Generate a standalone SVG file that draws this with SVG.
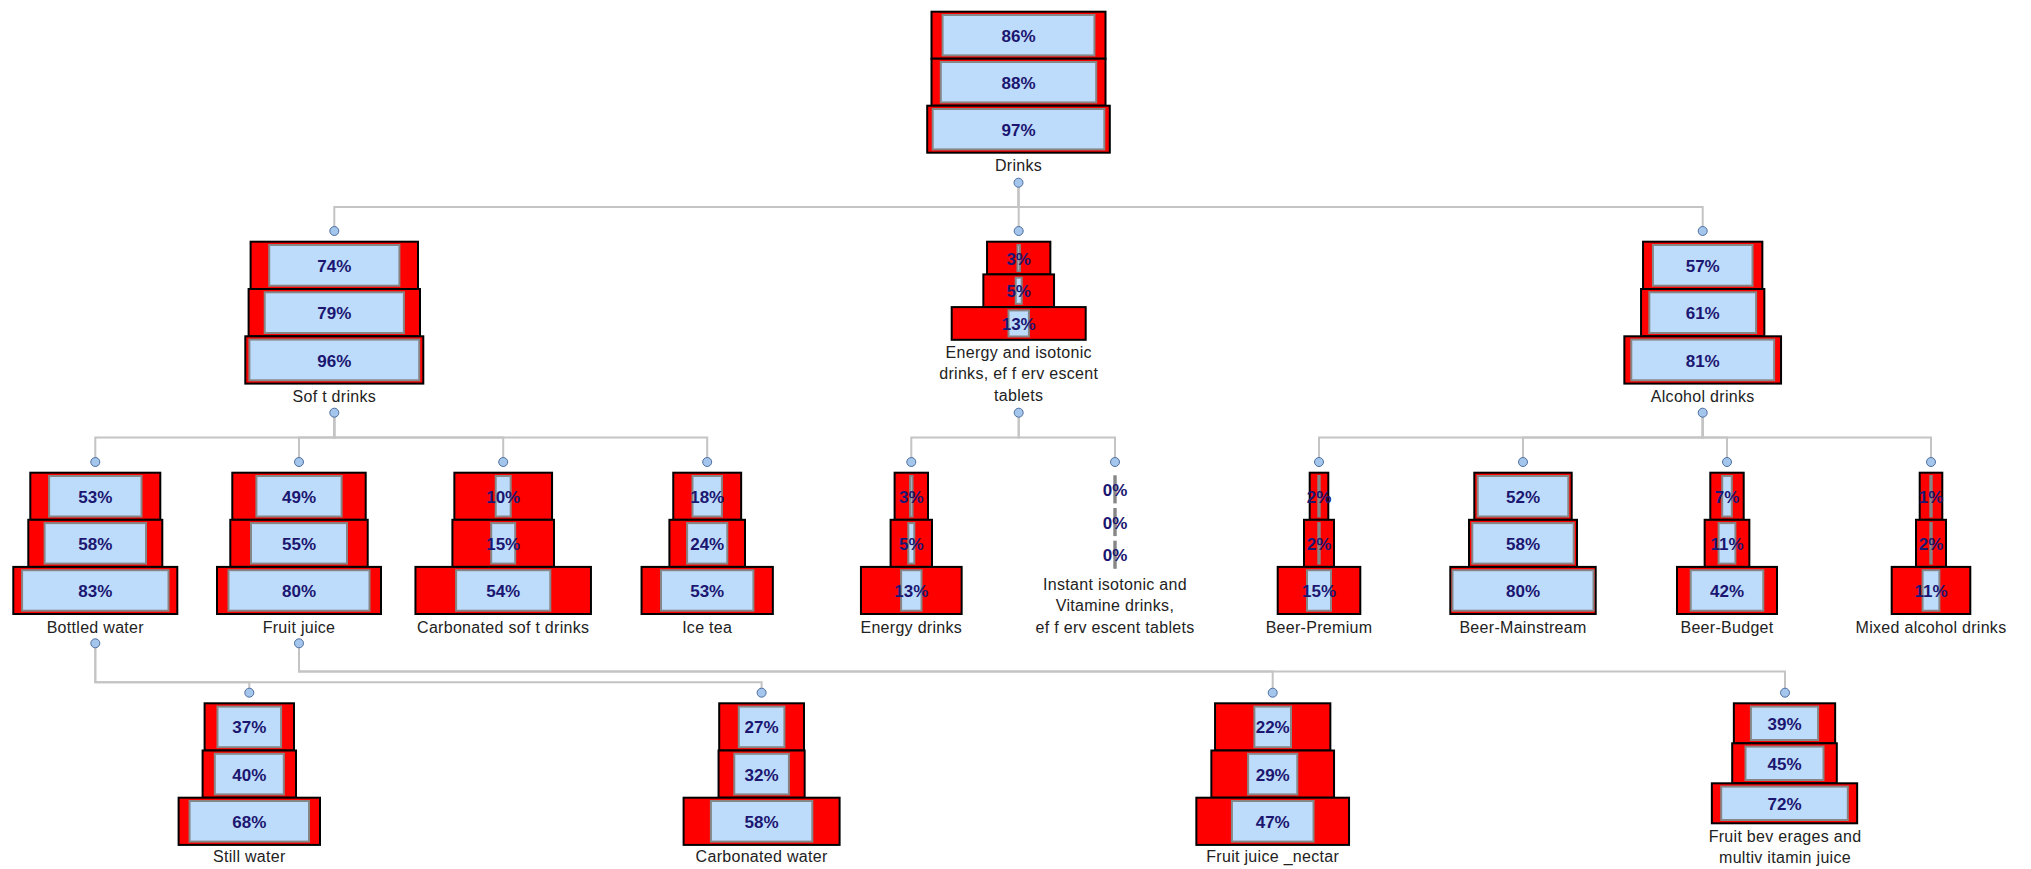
<svg xmlns="http://www.w3.org/2000/svg" width="2031" height="869" viewBox="0 0 2031 869">
  <style>
    .bg { fill: #ffffff; }
    .o { fill: #ff0000; stroke: #000000; stroke-width: 2; }
    .i { fill: #bddcfc; stroke: #868686; stroke-width: 2; }
    .p { font-family: "Liberation Sans", Arial, sans-serif; font-size: 17px; font-weight: bold; fill: #1b1670; text-anchor: middle; }
    .l { font-family: "Liberation Sans", Arial, sans-serif; font-size: 16px; fill: #222222; text-anchor: middle; letter-spacing: 0.3px; }
    .d { fill: #a4c6ec; stroke: #4f6f9f; stroke-width: 1; }
    .c { fill: none; stroke: #c4c4c4; stroke-width: 2; }
  </style>
  <rect class="bg" x="0" y="0" width="2031" height="869"/>

  <!-- tree connectors: parent dot -> bus -> child dot -->
  <g id="connectors">
    <path class="c" d="M1018.5 182.7 V207 H334.3 V231"/>
    <path class="c" d="M1018.5 182.7 V207 H1018.7 V231"/>
    <path class="c" d="M1018.5 182.7 V207 H1702.7 V231"/>

    <path class="c" d="M334.3 412.7 V437.5 H95.3 V462"/>
    <path class="c" d="M334.3 412.7 V437.5 H299 V462"/>
    <path class="c" d="M334.3 412.7 V437.5 H503.2 V462"/>
    <path class="c" d="M334.3 412.7 V437.5 H707.2 V462"/>

    <path class="c" d="M1018.7 412.7 V437.5 H911.3 V462"/>
    <path class="c" d="M1018.7 412.7 V437.5 H1115 V462"/>

    <path class="c" d="M1702.7 412.7 V437.5 H1319 V462"/>
    <path class="c" d="M1702.7 412.7 V437.5 H1523 V462"/>
    <path class="c" d="M1702.7 412.7 V437.5 H1727 V462"/>
    <path class="c" d="M1702.7 412.7 V437.5 H1931 V462"/>

    <path class="c" d="M95.3 643.3 V682.3 H249.3 V692.7"/>
    <path class="c" d="M95.3 643.3 V682.3 H761.6 V692.7"/>

    <path class="c" d="M299 643.3 V671.5 H1272.7 V692.7"/>
    <path class="c" d="M299 643.3 V671.5 H1785 V692.7"/>
  </g>

  <!-- Drinks -->
  <g id="n-drinks">
    <rect class="o" x="931.5" y="11.7" width="174" height="47"/>
    <rect class="i" x="942.6" y="15" width="151.8" height="40.4"/>
    <rect class="o" x="931.5" y="58.7" width="174" height="47"/>
    <rect class="i" x="940.8" y="62" width="155.4" height="40.4"/>
    <rect class="o" x="927.2" y="105.7" width="182.6" height="47"/>
    <rect class="i" x="932.7" y="109" width="171.6" height="40.4"/>
    <text class="p" x="1018.5" y="41.7">86%</text>
    <text class="p" x="1018.5" y="88.7">88%</text>
    <text class="p" x="1018.5" y="135.7">97%</text>
    <text class="l" x="1018.5" y="171">Drinks</text>
    <circle class="d" cx="1018.5" cy="182.7" r="4.5"/>
  </g>

  <!-- Soft drinks -->
  <g id="n-soft-drinks">
    <rect class="o" x="250.6" y="241.7" width="167.4" height="47.3"/>
    <rect class="i" x="269.2" y="245" width="130.2" height="40.7"/>
    <rect class="o" x="248.6" y="289" width="171.4" height="47.3"/>
    <rect class="i" x="264.7" y="292.3" width="139.2" height="40.7"/>
    <rect class="o" x="245.3" y="336.3" width="178" height="47.3"/>
    <rect class="i" x="249.4" y="339.6" width="169.8" height="40.7"/>
    <text class="p" x="334.3" y="271.9">74%</text>
    <text class="p" x="334.3" y="319.2">79%</text>
    <text class="p" x="334.3" y="366.5">96%</text>
    <text class="l" x="334.3" y="402">Sof t drinks</text>
    <circle class="d" cx="334.3" cy="231" r="4.5"/>
    <circle class="d" cx="334.3" cy="412.7" r="4.5"/>
  </g>

  <!-- Energy and isotonic drinks, effervescent tablets -->
  <g id="n-energy-isotonic">
    <rect class="o" x="987.05" y="241.7" width="63.3" height="32.7"/>
    <rect class="i" x="1017.5" y="245" width="2.4" height="26.1"/>
    <rect class="o" x="983.35" y="274.4" width="70.7" height="32.7"/>
    <rect class="i" x="1015.7" y="277.7" width="6" height="26.1"/>
    <rect class="o" x="951.7" y="307.1" width="134" height="32.7"/>
    <rect class="i" x="1008.5" y="310.4" width="20.4" height="26.1"/>
    <text class="p" x="1018.7" y="264.6">3%</text>
    <text class="p" x="1018.7" y="297.3">5%</text>
    <text class="p" x="1018.7" y="330">13%</text>
    <text class="l" x="1018.7" y="357.5">Energy  and isotonic</text>
    <text class="l" x="1018.7" y="379">drinks, ef f erv escent</text>
    <text class="l" x="1018.7" y="400.5">tablets</text>
    <circle class="d" cx="1018.7" cy="231" r="4.5"/>
    <circle class="d" cx="1018.7" cy="412.7" r="4.5"/>
  </g>

  <!-- Alcohol drinks -->
  <g id="n-alcohol-drinks">
    <rect class="o" x="1643.05" y="241.7" width="119.3" height="47.3"/>
    <rect class="i" x="1652.9" y="245" width="99.6" height="40.7"/>
    <rect class="o" x="1641.05" y="289" width="123.3" height="47.3"/>
    <rect class="i" x="1649.3" y="292.3" width="106.8" height="40.7"/>
    <rect class="o" x="1624.35" y="336.3" width="156.7" height="47.3"/>
    <rect class="i" x="1631.3" y="339.6" width="142.8" height="40.7"/>
    <text class="p" x="1702.7" y="271.9">57%</text>
    <text class="p" x="1702.7" y="319.2">61%</text>
    <text class="p" x="1702.7" y="366.5">81%</text>
    <text class="l" x="1702.7" y="402">Alcohol drinks</text>
    <circle class="d" cx="1702.7" cy="231" r="4.5"/>
    <circle class="d" cx="1702.7" cy="412.7" r="4.5"/>
  </g>

  <!-- Bottled water -->
  <g id="n-bottled-water">
    <rect class="o" x="30.3" y="472.7" width="130" height="47.1"/>
    <rect class="i" x="49.1" y="476" width="92.4" height="40.5"/>
    <rect class="o" x="28.3" y="519.8" width="134" height="47.1"/>
    <rect class="i" x="44.6" y="523.1" width="101.4" height="40.5"/>
    <rect class="o" x="13.3" y="566.9" width="164" height="47.1"/>
    <rect class="i" x="22.1" y="570.2" width="146.4" height="40.5"/>
    <text class="p" x="95.3" y="502.8">53%</text>
    <text class="p" x="95.3" y="549.9">58%</text>
    <text class="p" x="95.3" y="597">83%</text>
    <text class="l" x="95.3" y="633">Bottled water</text>
    <circle class="d" cx="95.3" cy="462" r="4.5"/>
    <circle class="d" cx="95.3" cy="643.3" r="4.5"/>
  </g>

  <!-- Fruit juice -->
  <g id="n-fruit-juice">
    <rect class="o" x="232.3" y="472.7" width="133.4" height="47.1"/>
    <rect class="i" x="256.4" y="476" width="85.2" height="40.5"/>
    <rect class="o" x="230.3" y="519.8" width="137.4" height="47.1"/>
    <rect class="i" x="251" y="523.1" width="96" height="40.5"/>
    <rect class="o" x="217" y="566.9" width="164" height="47.1"/>
    <rect class="i" x="228.5" y="570.2" width="141" height="40.5"/>
    <text class="p" x="299" y="502.8">49%</text>
    <text class="p" x="299" y="549.9">55%</text>
    <text class="p" x="299" y="597">80%</text>
    <text class="l" x="299" y="633">Fruit juice</text>
    <circle class="d" cx="299" cy="462" r="4.5"/>
    <circle class="d" cx="299" cy="643.3" r="4.5"/>
  </g>

  <!-- Carbonated soft drinks -->
  <g id="n-carbonated-soft-drinks">
    <rect class="o" x="454.35" y="472.7" width="97.7" height="47.1"/>
    <rect class="i" x="495.7" y="476" width="15" height="40.5"/>
    <rect class="o" x="452.4" y="519.8" width="101.6" height="47.1"/>
    <rect class="i" x="491.2" y="523.1" width="24" height="40.5"/>
    <rect class="o" x="415.45" y="566.9" width="175.5" height="47.1"/>
    <rect class="i" x="456.1" y="570.2" width="94.2" height="40.5"/>
    <text class="p" x="503.2" y="502.8">10%</text>
    <text class="p" x="503.2" y="549.9">15%</text>
    <text class="p" x="503.2" y="597">54%</text>
    <text class="l" x="503.2" y="633">Carbonated sof t drinks</text>
    <circle class="d" cx="503.2" cy="462" r="4.5"/>
  </g>

  <!-- Ice tea -->
  <g id="n-ice-tea">
    <rect class="o" x="673.25" y="472.7" width="67.9" height="47.1"/>
    <rect class="i" x="692.5" y="476" width="29.4" height="40.5"/>
    <rect class="o" x="669.4" y="519.8" width="75.6" height="47.1"/>
    <rect class="i" x="687.1" y="523.1" width="40.2" height="40.5"/>
    <rect class="o" x="641.55" y="566.9" width="131.3" height="47.1"/>
    <rect class="i" x="661" y="570.2" width="92.4" height="40.5"/>
    <text class="p" x="707.2" y="502.8">18%</text>
    <text class="p" x="707.2" y="549.9">24%</text>
    <text class="p" x="707.2" y="597">53%</text>
    <text class="l" x="707.2" y="633">Ice tea</text>
    <circle class="d" cx="707.2" cy="462" r="4.5"/>
  </g>

  <!-- Energy drinks -->
  <g id="n-energy-drinks">
    <rect class="o" x="894.6" y="472.7" width="33.4" height="47.1"/>
    <rect class="i" x="910.1" y="476" width="2.4" height="40.5"/>
    <rect class="o" x="890.6" y="519.8" width="41.4" height="47.1"/>
    <rect class="i" x="908.3" y="523.1" width="6" height="40.5"/>
    <rect class="o" x="860.95" y="566.9" width="100.7" height="47.1"/>
    <rect class="i" x="901.1" y="570.2" width="20.4" height="40.5"/>
    <text class="p" x="911.3" y="502.8">3%</text>
    <text class="p" x="911.3" y="549.9">5%</text>
    <text class="p" x="911.3" y="597">13%</text>
    <text class="l" x="911.3" y="633">Energy  drinks</text>
    <circle class="d" cx="911.3" cy="462" r="4.5"/>
  </g>

  <!-- Instant isotonic and Vitamine drinks, effervescent tablets -->
  <g id="n-instant-isotonic">
    <rect class="i" x="1114.3" y="476.3" width="1.4" height="26.1"/>
    <rect class="i" x="1114.3" y="509" width="1.4" height="26.1"/>
    <rect class="i" x="1114.3" y="541.7" width="1.4" height="26.1"/>
    <text class="p" x="1115" y="495.9">0%</text>
    <text class="p" x="1115" y="528.6">0%</text>
    <text class="p" x="1115" y="561.3">0%</text>
    <text class="l" x="1115" y="589.5">Instant isotonic and</text>
    <text class="l" x="1115" y="611">Vitamine drinks,</text>
    <text class="l" x="1115" y="633">ef f erv escent tablets</text>
    <circle class="d" cx="1115" cy="462" r="4.5"/>
  </g>

  <!-- Beer-Premium -->
  <g id="n-beer-premium">
    <rect class="o" x="1309.7" y="472.7" width="18.6" height="47.1"/>
    <rect class="i" x="1318.3" y="476" width="1.4" height="40.5"/>
    <rect class="o" x="1304" y="519.8" width="30" height="47.1"/>
    <rect class="i" x="1318.3" y="523.1" width="1.4" height="40.5"/>
    <rect class="o" x="1277.7" y="566.9" width="82.6" height="47.1"/>
    <rect class="i" x="1307" y="570.2" width="24" height="40.5"/>
    <text class="p" x="1319" y="502.8">2%</text>
    <text class="p" x="1319" y="549.9">2%</text>
    <text class="p" x="1319" y="597">15%</text>
    <text class="l" x="1319" y="633">Beer-Premium</text>
    <circle class="d" cx="1319" cy="462" r="4.5"/>
  </g>

  <!-- Beer-Mainstream -->
  <g id="n-beer-mainstream">
    <rect class="o" x="1474.3" y="472.7" width="97.4" height="47.1"/>
    <rect class="i" x="1477.7" y="476" width="90.6" height="40.5"/>
    <rect class="o" x="1469" y="519.8" width="108" height="47.1"/>
    <rect class="i" x="1472.3" y="523.1" width="101.4" height="40.5"/>
    <rect class="o" x="1450.3" y="566.9" width="145.4" height="47.1"/>
    <rect class="i" x="1452.5" y="570.2" width="141" height="40.5"/>
    <text class="p" x="1523" y="502.8">52%</text>
    <text class="p" x="1523" y="549.9">58%</text>
    <text class="p" x="1523" y="597">80%</text>
    <text class="l" x="1523" y="633">Beer-Mainstream</text>
    <circle class="d" cx="1523" cy="462" r="4.5"/>
  </g>

  <!-- Beer-Budget -->
  <g id="n-beer-budget">
    <rect class="o" x="1710.3" y="472.7" width="33.4" height="47.1"/>
    <rect class="i" x="1722.2" y="476" width="9.6" height="40.5"/>
    <rect class="o" x="1704.65" y="519.8" width="44.7" height="47.1"/>
    <rect class="i" x="1718.6" y="523.1" width="16.8" height="40.5"/>
    <rect class="o" x="1677" y="566.9" width="100" height="47.1"/>
    <rect class="i" x="1690.7" y="570.2" width="72.6" height="40.5"/>
    <text class="p" x="1727" y="502.8">7%</text>
    <text class="p" x="1727" y="549.9">11%</text>
    <text class="p" x="1727" y="597">42%</text>
    <text class="l" x="1727" y="633">Beer-Budget</text>
    <circle class="d" cx="1727" cy="462" r="4.5"/>
  </g>

  <!-- Mixed alcohol drinks -->
  <g id="n-mixed-alcohol-drinks">
    <rect class="o" x="1919.7" y="472.7" width="22.6" height="47.1"/>
    <rect class="i" x="1930.3" y="476" width="1.4" height="40.5"/>
    <rect class="o" x="1916" y="519.8" width="30" height="47.1"/>
    <rect class="i" x="1930.3" y="523.1" width="1.4" height="40.5"/>
    <rect class="o" x="1891.7" y="566.9" width="78.6" height="47.1"/>
    <rect class="i" x="1922.6" y="570.2" width="16.8" height="40.5"/>
    <text class="p" x="1931" y="502.8">1%</text>
    <text class="p" x="1931" y="549.9">2%</text>
    <text class="p" x="1931" y="597">11%</text>
    <text class="l" x="1931" y="633">Mixed alcohol drinks</text>
    <circle class="d" cx="1931" cy="462" r="4.5"/>
  </g>

  <!-- Still water -->
  <g id="n-still-water">
    <rect class="o" x="204.6" y="703.3" width="89.4" height="47.2"/>
    <rect class="i" x="217.5" y="706.6" width="63.6" height="40.6"/>
    <rect class="o" x="202.6" y="750.5" width="93.4" height="47.2"/>
    <rect class="i" x="214.8" y="753.8" width="69" height="40.6"/>
    <rect class="o" x="178.6" y="797.7" width="141.4" height="47.2"/>
    <rect class="i" x="189.6" y="801" width="119.4" height="40.6"/>
    <text class="p" x="249.3" y="733.4">37%</text>
    <text class="p" x="249.3" y="780.6">40%</text>
    <text class="p" x="249.3" y="827.8">68%</text>
    <text class="l" x="249.3" y="862">Still water</text>
    <circle class="d" cx="249.3" cy="692.7" r="4.5"/>
  </g>

  <!-- Carbonated water -->
  <g id="n-carbonated-water">
    <rect class="o" x="719.2" y="703.3" width="84.8" height="47.2"/>
    <rect class="i" x="738.8" y="706.6" width="45.6" height="40.6"/>
    <rect class="o" x="718.55" y="750.5" width="86.1" height="47.2"/>
    <rect class="i" x="734.3" y="753.8" width="54.6" height="40.6"/>
    <rect class="o" x="683.6" y="797.7" width="156" height="47.2"/>
    <rect class="i" x="710.9" y="801" width="101.4" height="40.6"/>
    <text class="p" x="761.6" y="733.4">27%</text>
    <text class="p" x="761.6" y="780.6">32%</text>
    <text class="p" x="761.6" y="827.8">58%</text>
    <text class="l" x="761.6" y="862">Carbonated water</text>
    <circle class="d" cx="761.6" cy="692.7" r="4.5"/>
  </g>

  <!-- Fruit juice nectar -->
  <g id="n-fruit-juice-nectar">
    <rect class="o" x="1215.05" y="703.3" width="115.3" height="47.2"/>
    <rect class="i" x="1254.4" y="706.6" width="36.6" height="40.6"/>
    <rect class="o" x="1211.35" y="750.5" width="122.7" height="47.2"/>
    <rect class="i" x="1248.1" y="753.8" width="49.2" height="40.6"/>
    <rect class="o" x="1196.35" y="797.7" width="152.7" height="47.2"/>
    <rect class="i" x="1231.9" y="801" width="81.6" height="40.6"/>
    <text class="p" x="1272.7" y="733.4">22%</text>
    <text class="p" x="1272.7" y="780.6">29%</text>
    <text class="p" x="1272.7" y="827.8">47%</text>
    <text class="l" x="1272.7" y="862">Fruit juice _nectar</text>
    <circle class="d" cx="1272.7" cy="692.7" r="4.5"/>
  </g>

  <!-- Fruit beverages and multivitamin juice -->
  <g id="n-fruit-beverages">
    <rect class="o" x="1733.85" y="703.3" width="101.3" height="40"/>
    <rect class="i" x="1750.9" y="706.6" width="67.2" height="33.4"/>
    <rect class="o" x="1732.2" y="743.3" width="104.6" height="40"/>
    <rect class="i" x="1745.5" y="746.6" width="78" height="33.4"/>
    <rect class="o" x="1711.85" y="783.3" width="145.3" height="40"/>
    <rect class="i" x="1721.2" y="786.6" width="126.6" height="33.4"/>
    <text class="p" x="1784.5" y="729.8">39%</text>
    <text class="p" x="1784.5" y="769.8">45%</text>
    <text class="p" x="1784.5" y="809.8">72%</text>
    <text class="l" x="1785" y="842">Fruit bev erages and</text>
    <text class="l" x="1785" y="862.5">multiv itamin juice</text>
    <circle class="d" cx="1785" cy="692.7" r="4.5"/>
  </g>
</svg>
